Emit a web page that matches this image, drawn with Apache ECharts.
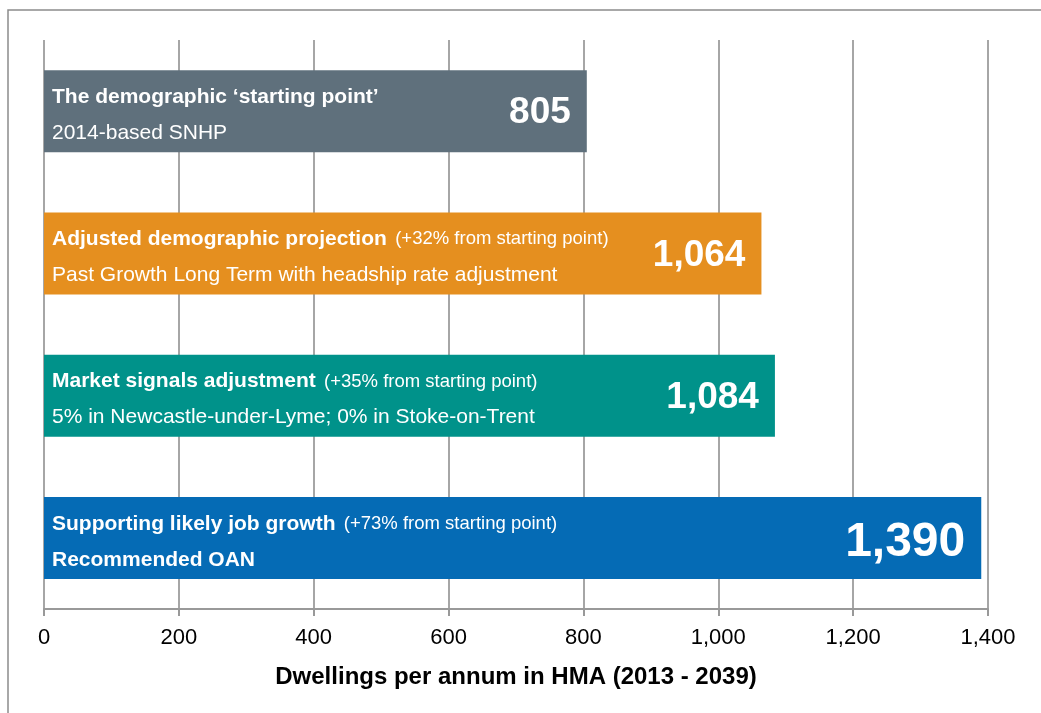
<!DOCTYPE html>
<html>
<head>
<meta charset="utf-8">
<script src="https://cdn.jsdelivr.net/npm/echarts@6/dist/echarts.min.js"></script>
<style>
	html, body { margin: 0; padding: 0; background: #fff; }
	#chart { width: 1041px; height: 713px; }
</style>
</head>
<body>
<div id="chart"></div>
<script>
// 数据
const titles = ["The demographic \u2018starting point\u2019", "Adjusted demographic projection", "Market signals adjustment", "Supporting likely job growth"];
const notes = ["", "(+32% from starting point)", "(+35% from starting point)", "(+73% from starting point)"];
const subtitles = ["2014-based SNHP", "Past Growth Long Term with headship rate adjustment", "5% in Newcastle-under-Lyme; 0% in Stoke-on-Trent", "Recommended OAN"];
const values = [805, 1064, 1084, 1390];
const barColors = ["#5f707c", "#e58f1f", "#00928a", "#056bb5"];
const xTicks = [0, 200, 400, 600, 800, 1000, 1200, 1400];

const fontFamily = "Liberation Sans, Arial, sans-serif";
const fmt = v => v.toLocaleString("en-GB");

const myChart = echarts.init(document.getElementById("chart"));

const option = {
	backgroundColor: "#fff",
	animation: false,
	graphic: [
		{
			type: "rect",
			shape: { x: 8, y: 10, width: 1100, height: 800 },
			style: { fill: "none", stroke: "#8c8c8c", lineWidth: 1.5 }
		}
	],
	grid: { left: 44, right: 53, top: 40, bottom: 104 },
	xAxis: {
		type: "value",
		min: xTicks[0],
		max: xTicks[xTicks.length - 1],
		interval: 200,
		name: "Dwellings per annum in HMA (2013 - 2039)",
		nameLocation: "middle",
		nameGap: 56,
		nameTextStyle: { color: "#000", fontSize: 24, fontWeight: "bold", fontFamily },
		axisLine: { show: true, lineStyle: { color: "#999", width: 2 } },
		axisTick: { show: true, length: 7, lineStyle: { color: "#999", width: 2 } },
		axisLabel: { color: "#000", fontSize: 22, fontFamily, margin: 18, formatter: v => fmt(v) },
		splitLine: { show: true, lineStyle: { color: "#a6a6a6", width: 2 } }
	},
	yAxis: {
		type: "category",
		inverse: true,
		data: titles,
		show: false
	},
	series: [
		{
			type: "bar",
			barWidth: 82,
			data: values.map((v, i) => ({ value: v, itemStyle: { color: barColors[i] } })),
			label: {
				show: true,
				position: "insideLeft",
				distance: 8,
				offset: [0, 4],
				color: "#fff",
				fontFamily,
				formatter: p => {
					const i = p.dataIndex;
					const sub = i === 3 ? "{subB|" + subtitles[i] + "}" : "{sub|" + subtitles[i] + "}";
					const note = notes[i] ? " {note|" + notes[i] + "}" : "";
					return "{title|" + titles[i] + "}" + note + "\n" + sub;
				},
				rich: {
					title: { color: "#fff", fontSize: 21, fontWeight: "bold", fontFamily, lineHeight: 36 },
					note: { color: "#fff", fontSize: 18.5, fontFamily, lineHeight: 36, padding: [0, 0, 0, 5] },
					sub: { color: "#fff", fontSize: 21, fontFamily, lineHeight: 36 },
					subB: { color: "#fff", fontSize: 21, fontWeight: "bold", fontFamily, lineHeight: 36 }
				}
			}
		},
		{
			// 右侧数值
			type: "bar",
			barWidth: 82,
			barGap: "-100%",
			silent: true,
			itemStyle: { color: "transparent" },
			data: values.map((v, i) => ({
				value: v,
				label: i === 3 ? { fontSize: 48, offset: [0, 5] } : { fontSize: 37, offset: [0, 2] }
			})),
			label: {
				show: true,
				position: "insideRight",
				distance: 16,
				color: "#fff",
				fontWeight: "bold",
				fontFamily,
				formatter: p => fmt(p.value)
			}
		}
	]
};

myChart.setOption(option);
</script>
</body>
</html>
